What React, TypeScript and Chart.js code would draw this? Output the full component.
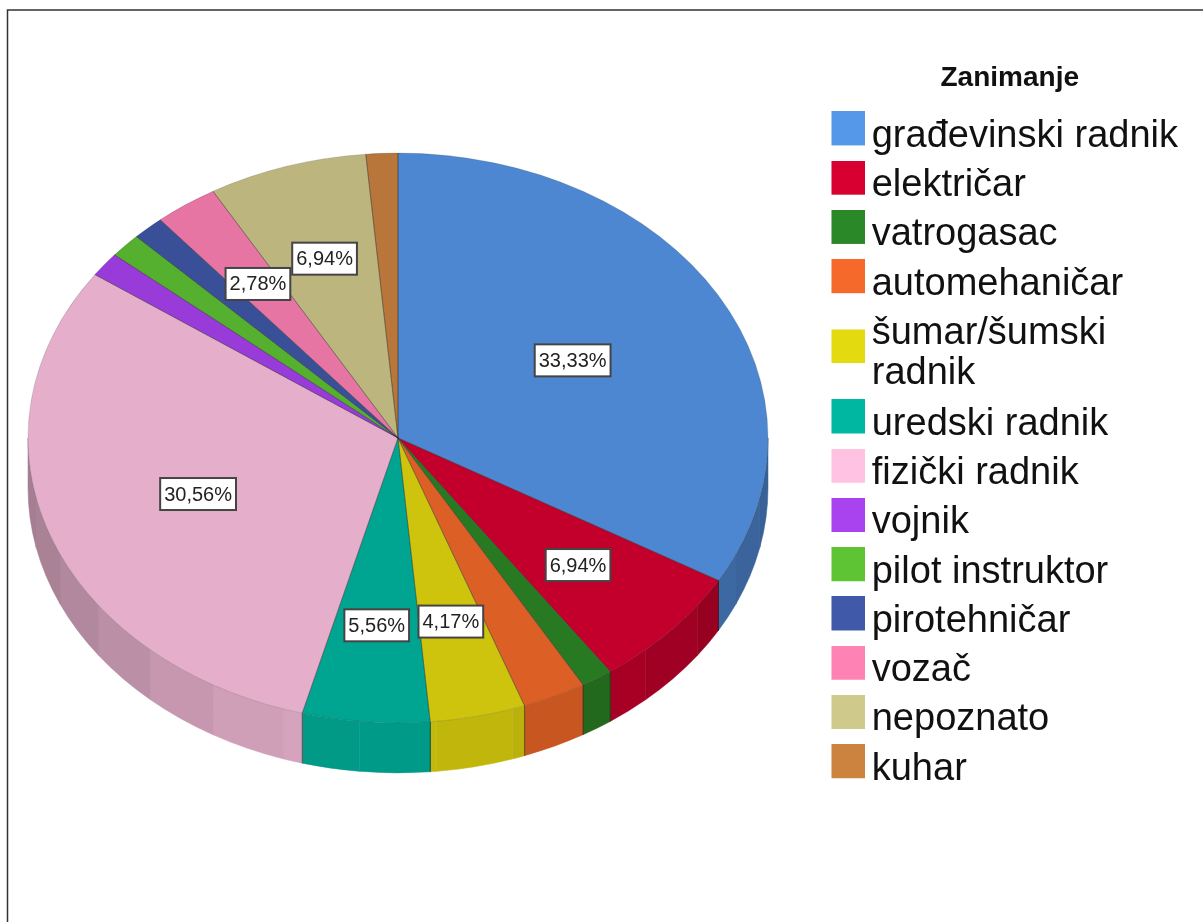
import React, { useEffect, useRef } from "react";
import { Chart, registerables } from "chart.js";

Chart.register(...registerables);

const categories: (string | string[])[] = [
  "građevinski radnik", "električar", "vatrogasac", "automehaničar",
  ["šumar/šumski", "radnik"], "uredski radnik", "fizički radnik", "vojnik",
  "pilot instruktor", "pirotehničar", "vozač", "nepoznato", "kuhar",
];
const counts = [24, 5, 1, 2, 3, 4, 22, 1, 1, 1, 2, 5, 1];
const labelled = [true, true, false, false, true, true, true, false, false, false, true, true, false];
const sliceColors = [
  "#4E87D1", "#C2002B", "#277A22", "#DC5F25", "#CFC40D", "#00A591", "#E5AFCB",
  "#983BD8", "#55B02F", "#395098", "#E675A3", "#BCB57E", "#B8763A",
];
const legendColors = [
  "#5597E9", "#D80030", "#2B8828", "#F56A2A", "#E3DA10", "#00B7A1", "#FFC2E2",
  "#A943F0", "#5FC434", "#4059A9", "#FF82B5", "#D0C98C", "#CC8340",
];

const FONT = "'Liberation Sans', Arial, sans-serif";
const CENTER_X = 398;
const CENTER_Y = 438;
const RADIUS = 370;
const TILT = 0.77;
const DEPTH = 50;
const FACET = Math.PI / 15;

function shade(hex: string, f: number) {
  const n = parseInt(hex.slice(1), 16);
  const c = [(n >> 16) & 255, (n >> 8) & 255, n & 255].map((v) => Math.round(v * f));
  return `rgb(${c[0]},${c[1]},${c[2]})`;
}

function applyTilt(ctx: CanvasRenderingContext2D, arc: any) {
  ctx.translate(CENTER_X - arc.x, CENTER_Y);
  ctx.scale(1, TILT);
  ctx.translate(0, -arc.y);
}

function swatch(color: string, offset: number) {
  const size = 34;
  const c = document.createElement("canvas");
  c.width = size;
  c.height = size + Math.abs(offset) * 2;
  const g = c.getContext("2d")!;
  g.fillStyle = color;
  g.fillRect(0, offset < 0 ? 0 : offset * 2, size, size);
  return c;
}

const framePlugin = {
  id: "frame",
  beforeDraw(chart: any) {
    const { ctx, width, height } = chart;
    ctx.save();
    ctx.fillStyle = "#fff";
    ctx.fillRect(0, 0, width, height);
    ctx.strokeStyle = "#333";
    ctx.lineWidth = 1.5;
    ctx.beginPath();
    ctx.moveTo(7.5, height);
    ctx.lineTo(7.5, 10);
    ctx.lineTo(width, 10);
    ctx.stroke();
    ctx.restore();
  },
};

const tiltPlugin = {
  id: "tilt",
  beforeDatasetsDraw(chart: any) {
    const { ctx } = chart;
    const arcs = chart.getDatasetMeta(0).data;
    ctx.save();
    applyTilt(ctx, arcs[0]);
    const depth = DEPTH / TILT;
    arcs.forEach((arc: any, i: number) => {
      const from = Math.max(arc.startAngle, 0);
      const to = Math.min(arc.endAngle, Math.PI);
      if (to <= from) return;
      const r = arc.outerRadius;
      let a = from;
      while (a < to - 1e-6) {
        const b = Math.min(to, (Math.floor(a / FACET + 1e-6) + 1) * FACET);
        const band = (Math.floor(a / FACET + 1e-6) + 0.5) * FACET;
        const sin = Math.sin(band);
        const color = shade(sliceColors[i], 0.72 + 0.22 * sin * sin);
        ctx.beginPath();
        ctx.moveTo(arc.x + r * Math.cos(a), arc.y + r * Math.sin(a));
        ctx.arc(arc.x, arc.y, r, a, b);
        ctx.lineTo(arc.x + r * Math.cos(b), arc.y + r * Math.sin(b) + depth);
        ctx.arc(arc.x, arc.y + depth, r, b, a, true);
        ctx.closePath();
        ctx.fillStyle = color;
        ctx.strokeStyle = color;
        ctx.lineWidth = 0.6;
        ctx.fill();
        ctx.stroke();
        a = b;
      }
      ctx.strokeStyle = "rgba(30,30,30,0.6)";
      ctx.lineWidth = 1;
      [arc.startAngle, arc.endAngle].forEach((e: number) => {
        if (e > 0 && e < Math.PI) {
          ctx.beginPath();
          ctx.moveTo(arc.x + r * Math.cos(e), arc.y + r * Math.sin(e));
          ctx.lineTo(arc.x + r * Math.cos(e), arc.y + r * Math.sin(e) + depth);
          ctx.stroke();
        }
      });
    });
    ctx.restore();
    ctx.save();
    applyTilt(ctx, arcs[0]);
  },
  afterDatasetsDraw(chart: any) {
    const { ctx } = chart;
    const arcs = chart.getDatasetMeta(0).data;
    arcs.forEach((arc: any) => {
      const r = arc.outerRadius;
      ctx.strokeStyle = "rgba(30,30,30,0.6)";
      ctx.lineWidth = 1;
      ctx.beginPath();
      ctx.moveTo(arc.x, arc.y);
      ctx.lineTo(arc.x + r * Math.cos(arc.startAngle), arc.y + r * Math.sin(arc.startAngle));
      ctx.stroke();
      ctx.strokeStyle = "rgba(30,30,30,0.18)";
      ctx.beginPath();
      ctx.arc(arc.x, arc.y, r, arc.startAngle, arc.endAngle);
      ctx.stroke();
    });
    ctx.restore();
    const total = counts.reduce((s, v) => s + v, 0);
    ctx.save();
    ctx.font = `20px ${FONT}`;
    ctx.textAlign = "center";
    ctx.textBaseline = "middle";
    arcs.forEach((arc: any, i: number) => {
      if (!labelled[i]) return;
      const share = counts[i] / total;
      const mid = (arc.startAngle + arc.endAngle) / 2;
      const k = share > 0.32 ? 0.545 : share > 0.25 ? 0.575 : 0.66;
      const x = CENTER_X + arc.outerRadius * k * Math.cos(mid);
      const y = CENTER_Y + arc.outerRadius * TILT * k * Math.sin(mid);
      const text = (share * 100).toFixed(2).replace(".", ",") + "%";
      const w = ctx.measureText(text).width + 8;
      const h = 32;
      ctx.fillStyle = "#fff";
      ctx.strokeStyle = "#444";
      ctx.lineWidth = 2;
      ctx.fillRect(x - w / 2, y - h / 2, w, h);
      ctx.strokeRect(x - w / 2, y - h / 2, w, h);
      ctx.fillStyle = "#222";
      ctx.fillText(text, x, y + 1);
    });
    ctx.restore();
  },
};

export default function App() {
  const ref = useRef<HTMLCanvasElement>(null);
  useEffect(() => {
    const chart = new Chart(ref.current!, {
      type: "pie",
      data: {
        labels: categories as any,
        datasets: [
          {
            data: counts,
            backgroundColor: sliceColors,
            borderWidth: 0,
            clip: false,
          } as any,
        ],
      },
      options: {
        animation: false,
        responsive: false,
        radius: RADIUS,
        layout: { padding: { left: 28, right: 15, top: 50, bottom: 108 } },
        plugins: {
          tooltip: { enabled: false },
          legend: {
            position: "right",
            align: "center",
            title: {
              display: true,
              text: "Zanimanje",
              color: "#111",
              font: { family: FONT, size: 28, weight: "bold" },
              padding: { top: 0, bottom: 8 },
            },
            labels: {
              color: "#111",
              font: { family: FONT, size: 38, lineHeight: 1.05 },
              padding: 11.25,
              usePointStyle: true,
              pointStyleWidth: 10,
              boxHeight: 34,
              generateLabels: () =>
                categories.map((text, i) => ({
                  text,
                  index: i,
                  hidden: false,
                  lineWidth: 0,
                  fontColor: "#111",
                  strokeStyle: legendColors[i],
                  fillStyle: legendColors[i],
                  pointStyle: swatch(legendColors[i], Array.isArray(text) ? 13 : -8),
                })) as any,
            },
          },
        } as any,
      } as any,
      plugins: [framePlugin, tiltPlugin],
    });
    return () => chart.destroy();
  }, []);
  return (
    <div style={{ position: "absolute", left: 0, top: 0, width: 1203, height: 922, background: "#fff" }}>
      <canvas ref={ref} width={1203} height={922} style={{ display: "block", width: 1203, height: 922, filter: "blur(0.6px)" }} />
    </div>
  );
}
